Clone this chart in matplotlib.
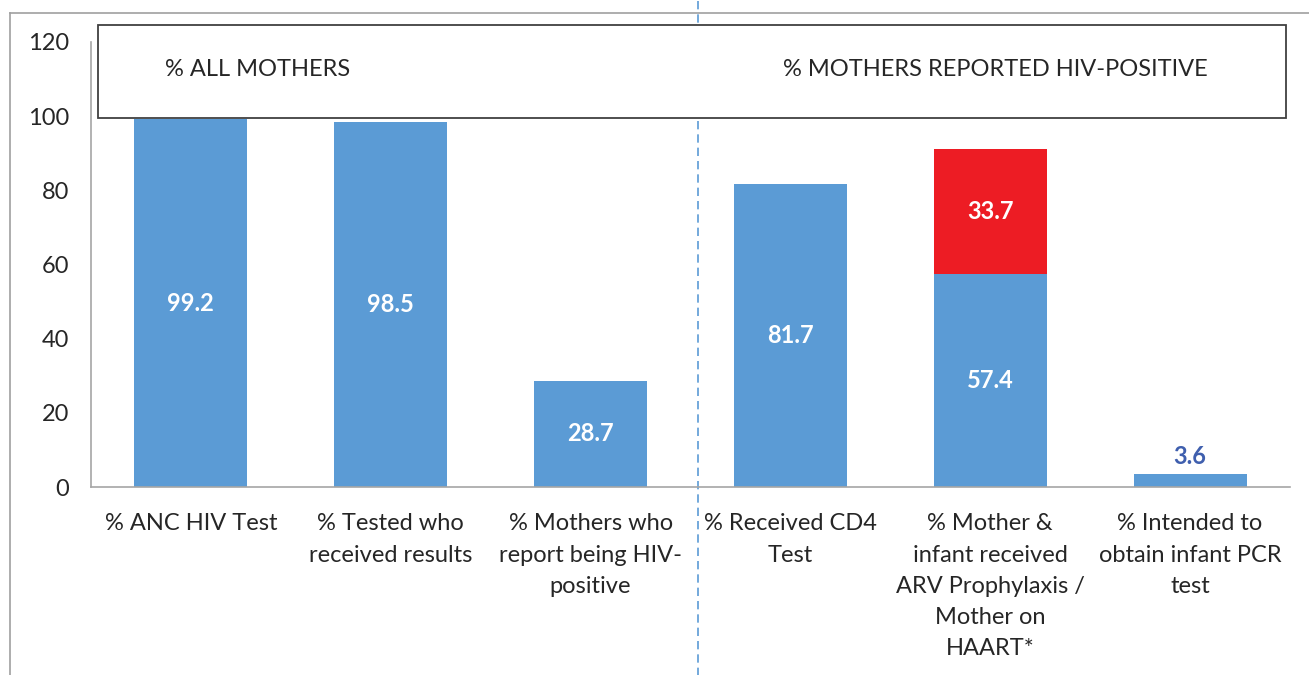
import numpy as np
import matplotlib
matplotlib.use("Agg")
import matplotlib.pyplot as plt
from matplotlib.patches import Rectangle
import matplotlib.transforms as mtransforms

plt.rcParams['font.family'] = ['Lato', 'DejaVu Sans']

# data
categories = ['% ANC HIV Test', '% Tested who\nreceived results',
              '% Mothers who\nreport being HIV-\npositive', '% Received CD4\nTest',
              '% Mother &\ninfant received\nARV Prophylaxis /\nMother on\nHAART*',
              '% Intended to\nobtain infant PCR\ntest']
base_values = [99.2, 98.5, 28.7, 81.7, 57.4, 3.6]
haart_values = [0, 0, 0, 0, 33.7, 0]
group_titles = ['% ALL MOTHERS', '% MOTHERS REPORTED HIV-POSITIVE']
yticks = [0, 20, 40, 60, 80, 100, 120]

blue = '#5B9BD5'
red = '#ED1C24'
label_blue = '#3F5FAE'
text_col = '#262626'

W, H = 1309, 675
fig = plt.figure(figsize=(W / 100, H / 100), dpi=100)
ax = fig.add_axes([91 / W, (H - 487) / H, 1199 / W, 445 / H])

x = np.arange(len(categories))
width = 0.565
ax.bar(x, base_values, width, color=blue, zorder=2)
ax.bar(x, haart_values, width, bottom=base_values, color=red, zorder=2)

# data labels
for i in range(len(categories)):
    v = base_values[i]
    if v > 10:
        ax.text(i, v / 2, '%.1f' % v, ha='center', va='center', color='white',
                fontsize=17, fontweight='bold', zorder=4)
    else:
        ax.text(i, v + 4.5, '%.1f' % v, ha='center', va='center', color=label_blue,
                fontsize=17, fontweight='bold', zorder=4)
    if haart_values[i] > 0:
        ax.text(i, v + haart_values[i] / 2, '%.1f' % haart_values[i], ha='center',
                va='center', color='white', fontsize=17, fontweight='bold', zorder=4)

ax.set_xlim(-0.5, len(categories) - 0.5)
ax.set_ylim(0, 120)
ax.set_yticks(yticks)
ax.set_xticks(x)
ax.set_xticklabels(categories, fontsize=17, color=text_col, linespacing=1.6)
ax.tick_params(axis='y', length=0, pad=16, labelsize=17, labelcolor=text_col)
ax.tick_params(axis='x', length=0, pad=19)
for s in ['top', 'right']:
    ax.spines[s].set_visible(False)
ax.spines['left'].set_color('#A6A6A6')
ax.spines['bottom'].set_color('#A6A6A6')
ax.spines['left'].set_linewidth(1.2)
ax.spines['bottom'].set_linewidth(1.2)

# header box over the top of the plot
trans = mtransforms.blended_transform_factory(ax.transAxes, ax.transData)
box = Rectangle((7 / 1199, 99.5), 1188 / 1199, 25.1, transform=trans,
                facecolor='white', edgecolor='#404040', lw=1.3, zorder=3,
                clip_on=False)
ax.add_patch(box)
ax.text(74 / 1199, 112.7, group_titles[0], transform=trans, ha='left',
        va='center', fontsize=17, color=text_col, zorder=4)
ax.text(692 / 1199, 112.7, group_titles[1], transform=trans, ha='left',
        va='center', fontsize=17, color=text_col, zorder=4)

# dashed divider between the two groups
trans2 = mtransforms.blended_transform_factory(ax.transData, ax.transAxes)
ax.plot([2.54, 2.54], [-0.43, 1.1], transform=trans2, color=blue, lw=1.2,
        ls=(0, (5, 3)), clip_on=False, zorder=2.5)

# outer frame
fig.add_artist(plt.Line2D([10 / W, 10 / W], [0, (H - 13) / H], color='#A0A0A0', lw=1.2))
fig.add_artist(plt.Line2D([10 / W, 1], [(H - 13) / H, (H - 13) / H], color='#A0A0A0', lw=1.2))

fig.savefig('out.png', dpi=100)
